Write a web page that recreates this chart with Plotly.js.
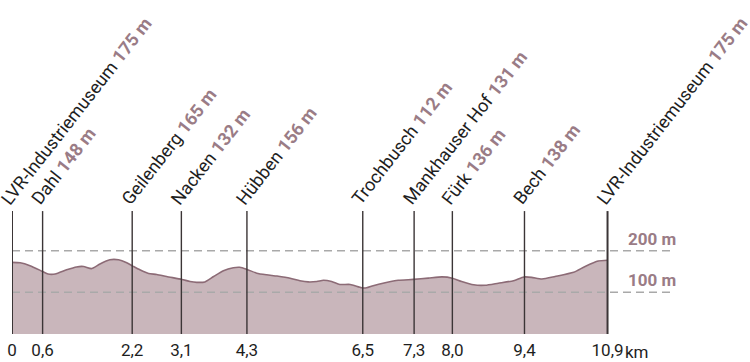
<!DOCTYPE html>
<html>
<head>
<meta charset="utf-8">
<script src="https://cdn.plot.ly/plotly-3.0.1.min.js"></script>
<style>html,body{margin:0;padding:0;background:#fff;}#chart{width:750px;height:362px;}</style>
</head>
<body>
<div id="chart"></div>
<script>
// Elevation profile (km, m)
const profileKm = [0, 0.15, 0.33, 0.56, 0.66, 0.79, 1.0, 1.18, 1.31, 1.46, 1.61, 1.79, 1.95, 2.1, 2.21, 2.34, 2.5, 2.65, 2.83, 3.11, 3.26, 3.38, 3.53, 3.69, 3.87, 4.05, 4.17, 4.3, 4.48, 4.66, 4.85, 5.09, 5.27, 5.42, 5.58, 5.7, 5.85, 6.0, 6.19, 6.4, 6.49, 6.61, 6.83, 7.07, 7.35, 7.62, 7.87, 8.06, 8.23, 8.45, 8.66, 8.9, 9.18, 9.37, 9.51, 9.7, 9.94, 10.28, 10.49, 10.73, 10.9];
const profileElev = [172, 171, 164, 150, 144, 144, 154, 161, 162, 157, 168, 178, 178, 171, 163, 154, 145, 143, 138, 131, 126, 124, 125, 138, 152, 159, 160, 155, 146, 142, 139, 134, 128, 125, 126, 129, 126, 119, 119, 111, 111, 116, 123, 129, 131, 134, 137, 134, 126, 118, 117, 122, 128, 137, 136, 132, 138, 148, 162, 175, 177];

// Stations
const stationNames = ["LVR-Industriemuseum", "Dahl", "Geilenberg", "Nacken", "Hübben", "Trochbusch", "Mankhauser Hof", "Fürk", "Bech", "LVR-Industriemuseum"];
const stationElev = [175, 148, 165, 132, 156, 112, 131, 136, 138, 175];
const stationKm = [0, 0.56, 2.2, 3.1, 4.3, 6.42, 7.36, 8.06, 9.38, 10.9];
const stationKmLabels = ["0", "0,6", "2,2", "3,1", "4,3", "6,5", "7,3", "8,0", "9,4", "10,9"];
const distanceUnit = "km";

// Reference heights
const refLevels = [100, 200];
const refLabels = ["100 m", "200 m"];

const FONT = "Roboto, 'DejaVu Sans', sans-serif";
const MAUVE = "#9a7c86";
const LINE_TOP = 295;
const X_MAX = 12.08;

const traces = [{
  x: profileKm, y: profileElev, type: "scatter", mode: "lines",
  fill: "tozeroy", fillcolor: "#c9b6bb",
  line: {color: "#8c6b76", width: 1.6, shape: "spline", smoothing: 0.6},
  hoverinfo: "skip", showlegend: false
}];

const shapes = [];
refLevels.forEach(v => shapes.push({
  type: "line", xref: "x", yref: "y", x0: 0, x1: X_MAX, y0: v, y1: v,
  line: {color: "#a9a9a9", width: 1.5, dash: "8px,5px"}, layer: "above"
}));
stationKm.forEach((k, i) => shapes.push({
  type: "line", xref: "x", yref: "y", x0: k, x1: k, y0: 0, y1: LINE_TOP,
  line: {color: "#3b3536", width: (i === 0 || i === stationKm.length - 1) ? 2 : 1.4}, layer: "above"
}));

const annotations = [];
stationNames.forEach((n, i) => annotations.push({
  x: stationKm[i], y: LINE_TOP, xref: "x", yref: "y",
  text: n + ' <span style="color:' + MAUVE + '"><b>' + stationElev[i] + ' m</b></span>',
  showarrow: false, textangle: -52, xanchor: "left", yanchor: "bottom",
  xshift: -18, yshift: 0,
  font: {family: FONT, size: 18, color: "#1e1e1e"}
}));
refLevels.forEach((v, i) => annotations.push({
  x: 11.72, y: v, xref: "x", yref: "y", text: "<b>" + refLabels[i] + "</b>",
  showarrow: false, xanchor: "center", yanchor: "bottom", yshift: 0,
  font: {family: FONT, size: 17, color: MAUVE}
}));
annotations.push({
  x: stationKm[stationKm.length - 1], y: 0, xref: "x", yref: "y", text: distanceUnit,
  showarrow: false, xanchor: "left", yanchor: "middle", xshift: 15, yshift: -18,
  font: {family: FONT, size: 17, color: "#1e1e1e"}
});

const layout = {
  width: 750, height: 362,
  margin: {l: 12, r: 78, t: 0, b: 28},
  paper_bgcolor: "#fff", plot_bgcolor: "#fff",
  showlegend: false,
  xaxis: {range: [0, X_MAX], showgrid: false, zeroline: false, showline: false,
    ticks: "", tickmode: "array", tickvals: stationKm, ticktext: stationKmLabels,
    ticklabelstandoff: 4,
    tickfont: {family: FONT, size: 17, color: "#1e1e1e"}, fixedrange: true},
  yaxis: {range: [0, 801.6], visible: false, fixedrange: true},
  shapes: shapes, annotations: annotations
};

Plotly.newPlot("chart", traces, layout, {displayModeBar: false, staticPlot: true});
</script>
</body>
</html>
